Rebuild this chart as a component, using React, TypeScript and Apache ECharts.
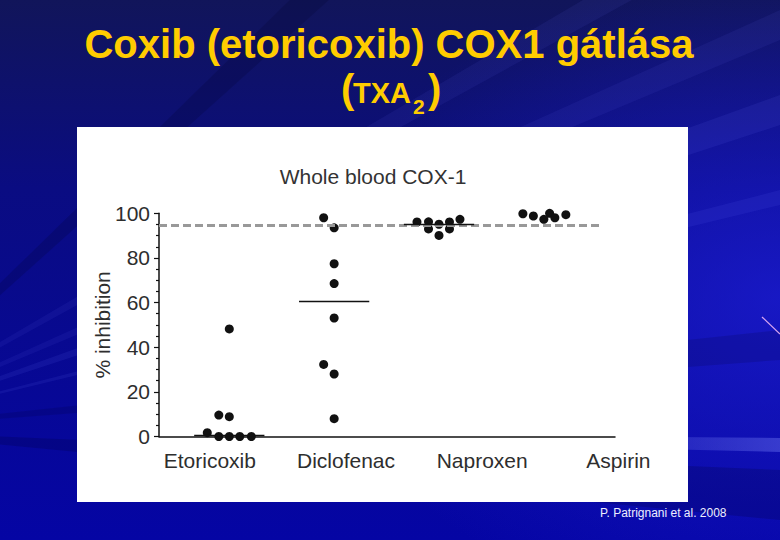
import React, { useEffect, useRef } from "react";
import * as echarts from "echarts";

// ---- data ----
const categories = ["Etoricoxib", "Diclofenac", "Naproxen", "Aspirin"];
const etoricoxib = [[1.0, 48.2], [0.9, 9.6], [1.0, 8.9], [0.79, 1.7], [0.9, 0], [1.0, 0], [1.1, 0], [1.21, 0]];
const diclofenac = [[1.9, 98.0], [2.0, 93.5], [2.0, 77.4], [2.0, 68.5], [2.0, 53.1], [1.9, 32.3], [2.0, 28.0], [2.0, 8.0]];
const naproxen = [[2.79, 96.1], [2.9, 96.2], [2.9, 93.0], [3.0, 95.1], [3.0, 90.1], [3.1, 96.1], [3.1, 93.0], [3.2, 97.3]];
const aspirin = [[3.8, 99.8], [3.9, 98.8], [4.0, 97.3], [4.055, 100.0], [4.105, 98.0], [4.21, 99.4]];
const groups = [etoricoxib, diclofenac, naproxen, aspirin];
const medians = [0.7, 60.5, 95.3, null];
const referenceLevel = 94.6;
const referenceEnd = 4.564;
const yMin = 0;
const yMax = 100;
const yInterval = 20;
const xMin = 0.3295;
const xMax = 4.6786;

const slideTitle = "Coxib (etoricoxib) COX1 gátlása";
const chartTitle = "Whole blood COX-1";
const yName = "% inhibition";
const citation = "P. Patrignani et al. 2008";

const FONT = "'Liberation Sans', Arial, Helvetica, sans-serif";
const MEDIAN_HALF = 0.335;

function txt(x: number, y: number, text: string, o: any) {
  return {
    type: "text",
    x,
    y,
    z: 100,
    silent: true,
    style: {
      text,
      fontFamily: FONT,
      align: o.align || "left",
      textAlign: o.align || "left",
      verticalAlign: "middle",
      textVerticalAlign: "middle",
      ...o,
    },
  };
}

export default function App() {
  const ref = useRef<HTMLDivElement>(null);
  useEffect(() => {
    if (!ref.current) return;
    const chart = echarts.init(ref.current, undefined, { renderer: "svg", width: 780, height: 540 });
    const S = [-150, 430];
    const wedge = (a: number[], b: number[], fill: any) => ({
      type: "polygon",
      z: -99,
      silent: true,
      shape: { points: [S, a, b] },
      style: { fill },
    });
    const fadeIn = (c: string) =>
      new echarts.graphic.LinearGradient(0, 0, 1, 0, [
        { offset: 0, color: c.replace(/[\d.]+\)$/, "0)") },
        { offset: 0.75, color: c.replace(/[\d.]+\)$/, "0)") },
        { offset: 1, color: c },
      ]);
    const markLineData: any[] = [
      [
        { coord: [xMin, referenceLevel], lineStyle: { color: "#999999", width: 3, type: [8, 4] } },
        { coord: [referenceEnd, referenceLevel] },
      ],
    ];
    medians.forEach((m, i) => {
      if (m === null) return;
      markLineData.push([
        { coord: [i + 1 - MEDIAN_HALF, m], lineStyle: { color: "#111111", width: 1.3, type: "solid" } },
        { coord: [i + 1 + MEDIAN_HALF, m] },
      ]);
    });

    const option: any = {
      animation: false,
      graphic: {
        elements: [
          {
            type: "rect",
            z: -100,
            silent: true,
            shape: { x: 0, y: 0, width: 780, height: 540 },
            style: {
              fill: new echarts.graphic.LinearGradient(0, 0, 0, 1, [
                { offset: 0, color: "#11155a" },
                { offset: 0.35, color: "#0a0c82" },
                { offset: 1, color: "#0505a4" },
              ]),
            },
          },
          {
            type: "rect",
            z: -99,
            silent: true,
            shape: { x: 0, y: 0, width: 780, height: 540 },
            style: {
              fill: new echarts.graphic.RadialGradient(1, 0.55, 0.6, [
                { offset: 0, color: "rgba(30,30,220,0.7)" },
                { offset: 1, color: "rgba(30,30,220,0)" },
              ]),
            },
          },
          wedge([780, 95], [780, 125], "rgba(110,120,255,0.10)"),
          wedge([780, 190], [780, 205], "rgba(110,120,255,0.10)"),
          wedge([780, 438], [780, 452], fadeIn("rgba(130,140,255,0.35)")),
          wedge([600, -10], [650, -10], "rgba(110,120,255,0.08)"),
          wedge([780, 10], [780, 40], "rgba(110,120,255,0.08)"),
          wedge([780, 470], [780, 520], "rgba(0,0,50,0.2)"),
          wedge([780, 330], [780, 360], "rgba(0,0,50,0.15)"),
          wedge([300, -10], [340, -10], "rgba(0,0,40,0.18)"),
          {
            type: "line",
            z: -98,
            silent: true,
            shape: { x1: 762, y1: 317, x2: 780, y2: 334 },
            style: { stroke: "#d9a6f0", lineWidth: 1.2 },
          },
          {
            type: "rect",
            z: -90,
            silent: true,
            shape: { x: 77, y: 127, width: 611, height: 375 },
            style: { fill: "#ffffff" },
          },
          txt(389, 44, slideTitle, { fill: "#ffcc00", fontSize: 40, fontWeight: "bold", align: "center" }),
          txt(341, 89, "(", { fill: "#ffcc00", fontSize: 40, fontWeight: "bold" }),
          txt(353, 93, "TXA", { fill: "#ffcc00", fontSize: 29, fontWeight: "bold" }),
          txt(413, 106, "2", { fill: "#ffcc00", fontSize: 21, fontWeight: "bold" }),
          txt(428, 89, ")", { fill: "#ffcc00", fontSize: 40, fontWeight: "bold" }),
          txt(373, 176, chartTitle, { fill: "#333333", fontSize: 21, align: "center" }),
          txt(600, 513, citation, { fill: "#eeeeff", fontSize: 12 }),
        ],
      },
      grid: [
        { left: 159, width: 456, top: 213.3, height: 223.2, containLabel: false },
        { left: 141.7, width: 544.8, top: 213.3, height: 223.2, containLabel: false },
      ],
      xAxis: [
        {
          type: "value",
          gridIndex: 0,
          min: xMin,
          max: xMax,
          axisLine: { show: true, onZero: false, lineStyle: { color: "#111111", width: 1.5 } },
          axisTick: { show: false },
          axisLabel: { show: false },
          splitLine: { show: false },
        },
        {
          type: "category",
          gridIndex: 1,
          data: categories,
          boundaryGap: true,
          axisLine: { show: false },
          axisTick: { show: false },
          splitLine: { show: false },
          axisLabel: { fontSize: 21, color: "#2e2e2e", fontFamily: FONT, margin: 13 },
        },
      ],
      yAxis: [
        {
          type: "value",
          gridIndex: 0,
          min: yMin,
          max: yMax,
          interval: yInterval,
          name: yName,
          nameLocation: "middle",
          nameGap: 46,
          nameMoveOverlap: false,
          nameTextStyle: { fontSize: 21, color: "#2e2e2e", fontFamily: FONT },
          axisLine: { show: true, lineStyle: { color: "#111111", width: 1.5 } },
          axisTick: { show: true, inside: false, length: 5, lineStyle: { color: "#111111", width: 1.2 } },
          minorTick: { show: true, splitNumber: 4, length: 3, lineStyle: { color: "#111111", width: 1.2 } },
          splitLine: { show: false },
          minorSplitLine: { show: false },
          axisLabel: { fontSize: 21, color: "#2e2e2e", fontFamily: FONT, margin: 9 },
        },
        { type: "value", gridIndex: 1, min: yMin, max: yMax, show: false },
      ],
      series: [
        {
          type: "scatter",
          xAxisIndex: 0,
          yAxisIndex: 0,
          z: 1,
          data: [],
          silent: true,
          markLine: {
            silent: true,
            symbol: ["none", "none"],
            label: { show: false },
            animation: false,
            data: markLineData,
          },
        },
        ...groups.map((g, i) => ({
          type: "scatter",
          name: categories[i],
          xAxisIndex: 0,
          yAxisIndex: 0,
          z: 3,
          clip: false,
          symbol: "circle",
          symbolSize: 9,
          itemStyle: { color: "#111111", opacity: 1 },
          data: g,
        })),
      ],
    };
    chart.setOption(option);
    return () => chart.dispose();
  }, []);
  return (
    <div
      ref={ref}
      style={{ position: "absolute", left: 0, top: 0, width: 780, height: 540 }}
    />
  );
}
